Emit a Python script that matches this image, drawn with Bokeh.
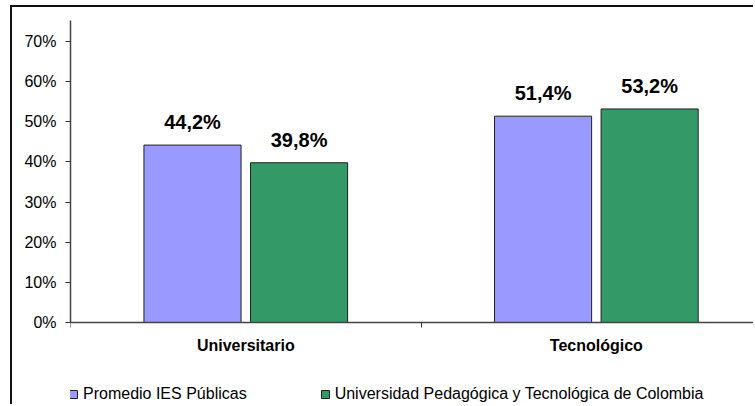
from bokeh.plotting import figure
from bokeh.models import (Range1d, FixedTicker, ColumnDataSource, Legend, LegendItem,
                          NumeralTickFormatter)
from bokeh.core.properties import value
from bokeh.embed import file_html
from bokeh.resources import INLINE

categories = ["Universitario", "Tecnológico"]
series_names = ["Promedio IES Públicas", "Universidad Pedagógica y Tecnológica de Colombia"]
promedio = [0.442, 0.514]
uptc = [0.398, 0.532]
y_ticks = [0.0, 0.1, 0.2, 0.3, 0.4, 0.5, 0.6, 0.7]
colors = ["#9999FF", "#339966"]

FONT = "Liberation Sans"

W, H = 743, 399
p = figure(width=W, height=H, output_backend="svg", toolbar_location=None,
           x_range=Range1d(0, 1.954), y_range=Range1d(-0.2093, 0.7524),
           min_border_left=58, min_border_right=0, min_border_top=13, min_border_bottom=0)
p.margin = (5, 0, 0, 10)
p.styles = {"border-left": "2px solid #111111", "border-top": "2px solid #111111"}
p.outline_line_color = None
p.xgrid.grid_line_color = None
p.ygrid.grid_line_color = None

centers = [i + 0.5 for i in range(len(categories))]
offset = 0.152
bw = 0.277
sources = []
for k, vals in enumerate([promedio, uptc]):
    xs = [c + (-offset if k == 0 else offset) for c in centers]
    labels = [("%.1f%%" % (v * 100)).replace(".", ",") for v in vals]
    src = ColumnDataSource(dict(x=xs, top=vals, label=labels))
    r = p.vbar(x="x", top="top", width=bw, source=src, fill_color=colors[k],
               line_color="#222222", line_width=1)
    p.text(x="x", y="top", text="label", source=src, text_align="center",
           text_baseline="bottom", y_offset=-12, text_font=value(FONT),
           text_font_size="20px", text_font_style="bold", text_color="black")
    sources.append(r)

xa = p.xaxis[0]
xa.fixed_location = 0
xa.ticker = FixedTicker(ticks=centers, minor_ticks=[0, 1, 2])
xa.major_label_overrides = {c: name for c, name in zip(centers, categories)}
xa.major_tick_out = 0
xa.major_tick_in = 0
xa.minor_tick_out = 5
xa.minor_tick_in = 0
xa.minor_tick_line_color = "#333333"
xa.axis_line_color = "#444444"
xa.axis_line_width = 1.5
xa.major_label_text_font = FONT
xa.major_label_text_font_size = "16px"
xa.major_label_text_font_style = "bold"
xa.major_label_text_color = "black"
xa.major_label_standoff = 10

ya = p.yaxis[0]
ya.bounds = (0, 0.7524)
ya.ticker = FixedTicker(ticks=y_ticks)
ya.formatter = NumeralTickFormatter(format="0%")
ya.major_tick_out = 5
ya.major_tick_in = 0
ya.minor_tick_line_color = None
ya.major_tick_line_color = "#333333"
ya.axis_line_color = "#444444"
ya.axis_line_width = 1.5
ya.major_label_text_font = FONT
ya.major_label_text_font_size = "16px"
ya.major_label_text_color = "black"
ya.major_label_standoff = 9

legend = Legend(items=[LegendItem(label=series_names[i], renderers=[sources[i]]) for i in range(2)],
                orientation="horizontal", location=(-2, 3), padding=0, margin=0,
                spacing=73, glyph_width=10, glyph_height=10, label_standoff=5,
                label_text_font=FONT, label_text_font_size="16px", label_text_color="black",
                border_line_color=None, background_fill_alpha=0)
p.add_layout(legend, "center")

open("out.html", "w").write(file_html(p, INLINE))
